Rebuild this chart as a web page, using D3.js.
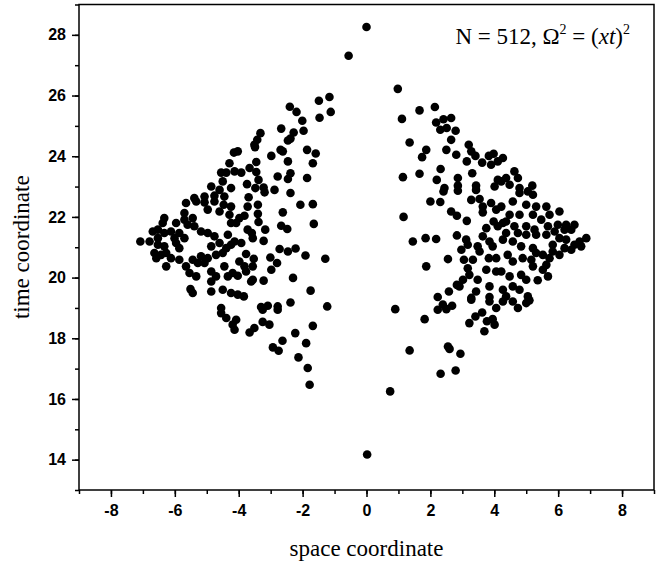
<!DOCTYPE html>
<html>
<head>
<meta charset="utf-8">
<script src="https://cdn.jsdelivr.net/npm/d3@7"></script>
<style>
  body { margin: 0; background: #fff; }
  svg { display: block; }
  .tick text { font-family: "Liberation Sans", Arial, sans-serif; font-weight: bold; font-size: 16px; fill: #000; }
  .title { font-family: "Liberation Serif", "Times New Roman", serif; font-size: 23px; fill: #000; }
</style>
</head>
<body>
<svg id="chart" width="665" height="568"></svg>
<script>
// values: left lobe, right lobe, and the few loose points
const leftX = [-1.16,-1.49,-1.12,-1.47,-2.40,-2.19,-2.01,-1.97,-2.67,-2.28,-2.46,-2.38,-3.32,-3.42,-3.51,-3.49,-4.03,-2.69,-2.62,-2.98,-1.86,-1.59,-2.46,-1.68,-3.45,-3.66,-3.92,-4.13,-3.45,-2.38,-2.46,-2.78,-1.86,-3.38,-3.74,-3.48,-3.22,-3.19,-2.88,-2.38,-3.69,
  -4.15,-4.29,-4.55,-4.39,-4.50,-4.86,-4.60,-4.24,-5.39,-5.07,-4.76,-4.45,
  -3.40,-3.72,-2.07,-1.68,-2.62,-3.40,-3.82,-3.98,-4.08,-3.38,-1.65,-2.67,-2.48,-3.17,-3.72,-3.59,-3.56,-3.22,-3.92,-4.13,-2.72,-2.46,-2.22,-1.91,-1.29,-3.77,-3.53,-3.01,-2.80,-3.98,-3.82,-3.56,-2.98,-4.03,-3.77,-3.56,-3.61,-3.22,-2.30,-1.75,-4.03,-3.84,-3.09,-3.30,-2.78,-2.38,-1.23,
  -4.08,-4.13,-3.66,-3.51,-3.25,-3.04,-3.25,-2.78,-1.68,-2.23,-2.63,-1.89,-2.93,-2.75,-2.13,-1.84,-1.78,
  -4.55,-4.39,-4.19,
  -5.65,-5.33,-5.07,-4.76,-4.47,-4.24,-5.70,-4.97,-4.60,-4.29,-6.33,-6.38,-5.96,-5.70,-5.44,-5.60,-5.39,-4.24,-6.69,-6.53,-6.33,-6.12,-5.86,-6.01,-5.18,-4.97,-4.76,-4.34,-6.53,-5.70,-7.08,-6.79,-6.53,-6.33,-5.96,-5.86,-4.86,-4.60,-4.24,-4.39,-6.64,-6.43,-6.27,-6.12,-5.86,-5.44,-5.18,-4.97,-4.71,-4.50,-6.58,-6.27,-5.28,-5.07,-5.65,-5.54,-5.33,-4.86,-4.71,-4.45,-4.34,-4.19,-4.86,-5.51,-5.44,-4.86,-4.50,-4.24,-4.55];
const leftY = [25.95,25.83,25.46,25.27,25.63,25.46,25.17,24.84,24.91,24.78,24.52,24.58,24.76,24.54,24.38,24.30,24.16,24.21,24.16,24.01,24.21,24.09,23.83,23.77,23.81,23.61,23.46,23.50,23.48,23.44,23.25,23.33,23.28,23.22,23.08,22.95,22.97,22.81,22.89,22.79,22.65,
  24.12,23.77,23.46,23.46,23.17,23.00,22.89,22.95,22.62,22.67,22.70,22.67,
  22.40,22.34,22.40,22.42,22.15,22.10,22.04,21.96,21.80,21.83,21.77,21.71,21.60,21.58,21.58,21.47,21.30,21.21,21.14,21.19,20.94,20.86,20.96,20.73,20.62,20.78,20.62,20.66,20.48,20.53,20.37,20.37,20.26,20.06,20.20,19.93,19.87,19.90,19.99,19.57,19.44,19.38,19.07,19.03,19.05,19.18,19.05,
  18.61,18.28,18.19,18.34,18.54,18.45,18.94,18.94,18.41,18.17,17.92,17.84,17.70,17.59,17.37,17.02,16.47,
  18.83,18.67,18.45,
  22.46,22.51,22.48,22.51,22.40,22.34,22.13,22.24,22.18,22.07,21.96,21.80,21.80,21.91,21.96,21.74,21.69,21.80,21.52,21.58,21.47,21.52,21.47,21.30,21.52,21.47,21.36,21.41,21.30,21.30,21.19,21.19,21.08,21.03,21.14,20.97,21.03,21.14,21.08,20.97,20.81,20.75,20.81,20.64,20.59,20.59,20.70,20.64,20.75,20.81,20.64,20.37,20.48,20.48,20.37,20.15,20.04,20.20,20.04,20.37,20.04,20.15,19.87,19.62,19.49,19.54,19.60,19.49,19.00];

const rightX = [0.98,1.11,1.66,2.14,2.18,2.41,2.65,2.31,2.51,2.79,2.65,1.35,1.87,1.74,2.50,2.81,3.20,3.28,3.41,3.14,3.62,3.83,3.98,3.90,4.11,2.32,1.66,1.14,2.20,2.86,3.31,2.86,3.43,2.44,4.11,4.01,
  4.27,4.63,4.74,4.37,4.22,4.48,5.19,4.79,
  1.16,2.00,2.31,2.41,2.86,3.43,3.28,3.54,3.64,3.90,4.06,2.65,2.83,3.14,3.64,3.98,3.75,4.11,1.45,1.85,2.18,2.83,3.12,3.64,3.85,3.17,2.97,3.48,3.54,3.95,2.55,3.05,3.33,3.83,4.06,1.87,3.17,3.22,3.75,4.06,3.02,3.48,2.83,2.91,2.58,3.43,3.85,2.23,3.28,3.85,
  4.58,4.79,5.05,5.21,5.00,5.31,5.63,4.22,4.48,4.79,5.21,5.47,5.73,6.04,4.27,4.37,4.63,5.00,5.26,5.68,5.99,6.25,6.51,4.37,4.74,5.00,5.31,5.63,5.89,6.20,6.41,6.88,4.27,4.58,6.04,6.25,6.67,6.51,4.84,5.21,5.83,6.20,6.41,6.72,4.42,5.31,5.52,5.83,6.04,5.73,4.58,4.89,5.16,5.63,5.21,4.22,4.48,4.84,5.00,5.52,5.68,5.36,4.27,4.58,4.79,5.05,4.37,
  0.90,1.82,2.23,2.39,2.50,2.68,3.28,3.22,3.41,3.62,3.77,3.95,4.01,3.69,4.06,3.85,1.35,2.55,2.60,2.94,2.32,2.79,0.74,
  4.58,4.74,5.00,5.10,4.27];
const rightY = [26.22,25.23,25.51,25.62,25.11,25.22,25.26,24.87,24.93,24.84,24.54,24.45,24.21,23.97,24.21,24.05,24.38,24.16,24.01,23.83,23.79,24.01,24.08,23.72,23.83,23.58,23.42,23.31,23.22,23.28,23.44,23.03,23.03,22.95,23.22,23.00,
  23.94,23.50,23.28,23.28,23.17,23.06,23.03,22.95,
  22.00,22.51,22.49,22.84,22.86,22.89,22.56,22.59,22.34,22.46,22.24,22.18,22.04,21.87,22.15,21.85,21.63,21.69,21.19,21.30,21.27,21.39,21.25,21.36,21.19,21.08,20.92,21.03,20.86,21.03,20.61,20.59,20.59,20.64,20.64,20.37,20.31,20.09,20.26,20.20,19.93,19.93,19.76,19.71,19.54,19.54,19.71,19.36,19.33,19.36,
  22.51,22.79,22.84,22.73,22.40,22.34,22.34,22.34,22.07,22.07,22.07,21.91,22.07,22.18,21.80,21.85,21.69,21.69,21.58,21.69,21.74,21.74,21.74,21.47,21.47,21.41,21.41,21.41,21.52,21.58,21.58,21.30,21.25,21.19,21.30,21.25,21.19,21.08,21.03,20.97,21.08,20.97,20.92,21.03,20.75,20.81,20.75,20.86,20.75,20.64,20.53,20.64,20.59,20.42,20.37,20.20,20.04,20.09,19.93,20.26,20.04,19.91,19.60,19.71,19.60,19.38,19.38,
  18.96,18.63,18.94,19.11,18.96,19.07,19.27,18.50,18.72,18.85,18.56,18.63,18.45,18.23,19.00,19.21,17.60,17.73,17.65,17.49,16.83,16.94,16.25,
  19.21,19.00,19.16,19.25,19.21];

const looseX = [0.00, -0.56, 0.02];
const looseY = [28.26, 27.31, 14.17];

const xTicks = [-8, -6, -4, -2, 0, 2, 4, 6, 8];
const yTicks = [14, 16, 18, 20, 22, 24, 26, 28];

const allX = leftX.concat(rightX, looseX);
const allY = leftY.concat(rightY, looseY);
const points = allX.map((d, i) => ({ x: d, y: allY[i] }));

const svg = d3.select('#chart');
const plotLeft = 79, plotRight = 654, plotTop = 4.5, plotBottom = 490;

const x = d3.scaleLinear().domain([-9, 9]).range([plotLeft, plotRight]);
const y = d3.scaleLinear().domain([13, 29]).range([plotBottom, plotTop]);

// plain hyphen for negatives, like the original
const fmt = d => String(d);

// minor ticks first, then labelled major ticks
svg.append('g')
    .attr('transform', 'translate(0,' + plotBottom + ')')
    .call(d3.axisBottom(x).tickValues(d3.range(-9, 10, 1)).tickSize(4).tickFormat(''))
    .call(g => g.select('.domain').remove())
    .selectAll('line').attr('stroke-width', 1.5);

svg.append('g')
    .attr('transform', 'translate(0,' + plotBottom + ')')
    .call(d3.axisBottom(x).tickValues(xTicks).tickSize(7).tickPadding(8).tickFormat(fmt))
    .call(g => g.select('.domain').remove())
    .selectAll('line').attr('stroke-width', 1.5);

svg.append('g')
    .attr('transform', 'translate(' + plotLeft + ',0)')
    .call(d3.axisLeft(y).tickValues(d3.range(13, 30, 1)).tickSize(4).tickFormat(''))
    .call(g => g.select('.domain').remove())
    .selectAll('line').attr('stroke-width', 1.5);

svg.append('g')
    .attr('transform', 'translate(' + plotLeft + ',0)')
    .call(d3.axisLeft(y).tickValues(yTicks).tickSize(7).tickPadding(6).tickFormat(fmt))
    .call(g => g.select('.domain').remove())
    .selectAll('line').attr('stroke-width', 1.5);

// frame
svg.append('rect')
    .attr('x', plotLeft)
    .attr('y', plotTop)
    .attr('width', plotRight - plotLeft)
    .attr('height', plotBottom - plotTop)
    .attr('fill', 'none')
    .attr('stroke', '#000')
    .attr('stroke-width', 1.5);

svg.append('g')
    .selectAll('circle')
    .data(points)
    .join('circle')
    .attr('cx', d => x(d.x))
    .attr('cy', d => y(d.y))
    .attr('r', 4.3)
    .attr('fill', '#000');

// axis titles
svg.append('text')
    .attr('class', 'title')
    .attr('x', (plotLeft + plotRight) / 2)
    .attr('y', 556)
    .attr('text-anchor', 'middle')
    .text('space coordinate');

svg.append('text')
    .attr('class', 'title')
    .attr('transform', 'translate(29,' + ((plotTop + plotBottom) / 2) + ') rotate(-90)')
    .attr('text-anchor', 'middle')
    .text('time coordinate');

// annotation in the top right corner
const note = svg.append('text')
    .attr('class', 'title')
    .attr('x', 630)
    .attr('y', 44)
    .attr('text-anchor', 'end');
note.append('tspan').text('N = 512, \u03A9');
note.append('tspan').attr('dy', -10).attr('font-size', 14).text('2');
note.append('tspan').attr('dy', 10).text(' = (');
note.append('tspan').attr('font-style', 'italic').text('xt');
note.append('tspan').text(')');
note.append('tspan').attr('dy', -10).attr('font-size', 14).text('2');
</script>
</body>
</html>
